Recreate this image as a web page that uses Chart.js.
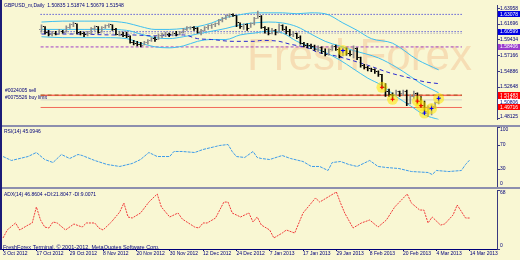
<!DOCTYPE html>
<html>
<head>
<meta charset="utf-8">
<script src="https://cdn.jsdelivr.net/npm/chart.js@4.4.1/dist/chart.umd.min.js"></script>
<style>
  html, body { margin: 0; padding: 0; background: #f9f7d3; }
  #wrap { position: relative; width: 520px; height: 260px; overflow: hidden; background: #f9f7d3; }
  .pane { position: absolute; left: 0; width: 520px; }
  .sep { position: absolute; left: 0; width: 520px; height: 2px; background: #8d8fae; }
  #lborder { position: absolute; left: 0; top: 0; width: 2px; height: 250px; background: #1c1c78; }
</style>
</head>
<body>
<div id="wrap">
  <div class="pane" style="top:0;height:125px"><canvas id="cMain"></canvas></div>
  <div class="sep" style="top:125px"></div>
  <div class="pane" style="top:127px;height:60px"><canvas id="cRsi"></canvas></div>
  <div class="sep" style="top:187px"></div>
  <div class="pane" style="top:189px;height:71px"><canvas id="cAdx"></canvas></div>
  <div id="lborder"></div>
</div>
<script>
// ---- datos ----
const dateLabels = ['3 Oct 2012', '17 Oct 2012', '29 Oct 2012', '8 Nov 2012', '20 Nov 2012', '30 Nov 2012',
    '12 Dec 2012', '24 Dec 2012', '7 Jan 2013', '17 Jan 2013', '29 Jan 2013', '8 Feb 2013',
    '20 Feb 2013', '4 Mar 2013', '14 Mar 2013'];
const dateIdx = [0, 8, 16, 24, 32, 40, 48, 56, 64, 72, 80, 88, 96, 104, 112];

const opens = [1.6092,1.6132,1.6053,1.6026,1.6040,1.6026,1.6066,1.6053,1.6119,1.6158,
    1.6172,1.6053,1.6040,1.6013,1.6040,1.6106,1.6132,1.6053,1.6119,1.6145,
    1.6158,1.6092,1.6026,1.6026,1.6000,1.5987,1.5908,1.5894,1.5881,1.5868,
    1.5908,1.5934,1.5960,1.5947,1.6000,1.6013,1.6026,1.6013,1.6040,1.6026,
    1.6053,1.6092,1.6119,1.6119,1.6106,1.6053,1.6079,1.6119,1.6145,1.6158,
    1.6172,1.6224,1.6251,1.6290,1.6303,1.6290,1.6185,1.6132,1.6158,1.6106,
    1.6172,1.6251,1.6277,1.6119,1.6092,1.6040,1.6079,1.6053,1.6145,1.6092,
    1.6066,1.6013,1.6040,1.5974,1.5894,1.5868,1.5855,1.5842,1.5802,1.5828,
    1.5776,1.5736,1.5802,1.5842,1.5802,1.5710,1.5789,1.5749,1.5736,1.5815,
    1.5683,1.5578,1.5551,1.5525,1.5512,1.5485,1.5446,1.5261,1.5208,1.5155,
    1.5142,1.5195,1.5168,1.5208,1.5023,1.5129,1.5168,1.5063,1.4997,1.4918,
    1.4944,1.4984,1.5037];
const highs = [1.6158,1.6132,1.6079,1.6066,1.6066,1.6092,1.6079,1.6145,1.6172,1.6198,
    1.6172,1.6066,1.6053,1.6066,1.6119,1.6145,1.6132,1.6132,1.6158,1.6172,
    1.6158,1.6106,1.6066,1.6053,1.6053,1.6000,1.5934,1.5921,1.5908,1.5921,
    1.5947,1.5974,1.5987,1.6026,1.6040,1.6053,1.6040,1.6053,1.6066,1.6066,
    1.6106,1.6132,1.6132,1.6132,1.6119,1.6092,1.6132,1.6158,1.6172,1.6185,
    1.6237,1.6264,1.6303,1.6317,1.6317,1.6290,1.6185,1.6172,1.6172,1.6185,
    1.6264,1.6356,1.6290,1.6132,1.6119,1.6106,1.6092,1.6172,1.6158,1.6132,
    1.6092,1.6066,1.6040,1.6000,1.5908,1.5894,1.5881,1.5868,1.5855,1.5842,
    1.5815,1.5815,1.5868,1.5868,1.5828,1.5815,1.5828,1.5789,1.5855,1.5828,
    1.5696,1.5591,1.5564,1.5538,1.5525,1.5498,1.5446,1.5314,1.5234,1.5182,
    1.5221,1.5208,1.5221,1.5221,1.5155,1.5208,1.5182,1.5129,1.5063,1.4997,
    1.5010,1.5050,1.5155];
const lows = [1.6053,1.6026,1.6000,1.6000,1.6013,1.6026,1.6040,1.6053,1.6106,1.6132,
    1.6026,1.6013,1.5987,1.6000,1.6026,1.6079,1.6040,1.6053,1.6106,1.6119,
    1.6079,1.6013,1.6000,1.5987,1.5974,1.5894,1.5868,1.5855,1.5842,1.5868,
    1.5881,1.5921,1.5921,1.5947,1.5974,1.5987,1.5987,1.6000,1.6000,1.6013,
    1.6040,1.6079,1.6092,1.6079,1.6040,1.6013,1.6066,1.6092,1.6106,1.6132,
    1.6158,1.6198,1.6237,1.6264,1.6277,1.6132,1.6106,1.6092,1.6079,1.6119,
    1.6158,1.6251,1.6106,1.6040,1.6013,1.6026,1.6013,1.6053,1.6079,1.6026,
    1.6000,1.5987,1.5960,1.5881,1.5842,1.5828,1.5815,1.5789,1.5776,1.5749,
    1.5710,1.5723,1.5789,1.5789,1.5683,1.5710,1.5723,1.5710,1.5683,1.5657,
    1.5551,1.5525,1.5498,1.5485,1.5459,1.5419,1.5248,1.5129,1.5129,1.5089,
    1.5142,1.5129,1.5142,1.4997,1.5023,1.5102,1.5023,1.4971,1.4891,1.4839,
    1.4865,1.4957,1.5023];
const closes = [1.6132,1.6053,1.6026,1.6040,1.6026,1.6066,1.6053,1.6119,1.6158,1.6172,
    1.6053,1.6040,1.6013,1.6040,1.6106,1.6132,1.6053,1.6119,1.6145,1.6158,
    1.6092,1.6026,1.6026,1.6000,1.5987,1.5908,1.5894,1.5881,1.5868,1.5908,
    1.5934,1.5960,1.5947,1.6000,1.6013,1.6026,1.6013,1.6040,1.6026,1.6053,
    1.6092,1.6119,1.6119,1.6106,1.6053,1.6079,1.6119,1.6145,1.6158,1.6172,
    1.6224,1.6251,1.6290,1.6303,1.6290,1.6185,1.6132,1.6158,1.6106,1.6172,
    1.6251,1.6277,1.6119,1.6092,1.6040,1.6079,1.6053,1.6145,1.6092,1.6066,
    1.6013,1.6040,1.5974,1.5894,1.5868,1.5855,1.5842,1.5802,1.5828,1.5776,
    1.5736,1.5802,1.5842,1.5802,1.5710,1.5789,1.5749,1.5736,1.5815,1.5683,
    1.5578,1.5551,1.5525,1.5512,1.5485,1.5446,1.5261,1.5208,1.5155,1.5142,
    1.5195,1.5168,1.5208,1.5023,1.5129,1.5168,1.5063,1.4997,1.4918,1.4944,
    1.4984,1.5037,1.5116];

// bandas de Bollinger y media (puntos leidos)
const bbUpIdx = [0,6,12,18,24,28,32,36,40,44,48,52,56,60,64,68,72,76,80,85,89,93,99,106,112];
const bbUpper = [1.6198,1.6211,1.6211,1.6211,1.6185,1.6132,1.6092,1.6092,1.6106,1.6132,1.6185,1.6264,1.6303,
    1.6330,1.6330,1.6330,1.6317,1.6330,1.6317,1.6185,1.6079,1.5960,1.5894,1.5657,1.5512];
const bbMidIdx = [0,6,12,18,24,28,32,36,40,44,48,52,56,60,64,68,72,76,80,84,88,95,100,104,107,110,112];
const bbMid = [1.6092,1.6092,1.6092,1.6092,1.6079,1.6026,1.5974,1.5960,1.5987,1.6026,1.6066,1.6106,1.6158,
    1.6185,1.6198,1.6185,1.6132,1.6026,1.5921,1.5855,1.5789,1.5683,1.5551,1.5419,1.5314,1.5234,1.5182];
const bbLowIdx = [0,6,12,18,24,28,32,36,40,44,48,52,56,60,64,68,72,76,80,84,88,92,96,100,104,108,112];
const bbLow = [1.5987,1.5974,1.5974,1.5974,1.5960,1.5894,1.5842,1.5828,1.5855,1.5921,1.5947,1.5947,1.6013,
    1.6040,1.6066,1.6040,1.5921,1.5842,1.5762,1.5657,1.5525,1.5393,1.5287,1.5129,1.4997,1.4865,1.4799];
const maIdx = [0,10,20,25,32,40,44,48,54,60,62,67,70,75,78,82,86,92,98,104,108,112];
const maVals = [1.6026,1.6026,1.6013,1.6013,1.6000,1.6013,1.5960,1.5947,1.5921,1.5921,1.5934,1.5921,1.5881,
    1.5828,1.5762,1.5723,1.5670,1.5578,1.5472,1.5393,1.5340,1.5314];

// niveles horizontales y etiquetas del eje
const levelPrices = [1.63078, 1.60599, 1.60350, 1.58406, 1.51483, 1.51483, 1.51419, 1.50806, 1.49716];
const boxPrices = [1.63078, 1.60599, 1.58406, 1.51483, 1.51419, 1.50806, 1.49716];
const boxLabels = ['1.63078', '1.60599', '1.58406', '1.51483', '1.51419', '1.50806', '1.49716'];
const priceTicks = [1.63958, 1.61696, 1.59434, 1.57166, 1.54886, 1.52648, 1.50387, 1.48125];
const priceTickLabels = ['1.63958', '1.61696', '1.59434', '1.57166', '1.54886', '1.52648', '1.50387', '1.48125'];
const orderLabels = ['#0024005 sell', '#0075526 buy limit'];
const orderPrices = [1.51483, 1.49716];

// marcas de operaciones
const tradeIdx = [85, 96, 99, 106, 107, 108, 110, 112];
const tradePrice = [1.5789, 1.5261, 1.5089, 1.5063, 1.4997, 1.4891, 1.4957, 1.5102];
const tradeSide = ['buy', 'sell', 'sell', 'sell', 'sell', 'buy', 'buy', 'buy'];

// RSI(14)
const rsiIdx = [0,2,6,8,10,12,14,16,18,19,22,25,28,31,33,35,37,40,41,43,46,48,51,52,54,55,56,58,60,61,
    62,64,67,69,72,74,76,78,79,81,83,85,88,90,92,95,98,102,103,104,107,110,111,112];
const rsiVal = [50.8,44.2,50.8,57.5,45.8,40.8,54.2,47.5,54.2,52.5,44.2,37.5,34.2,39.2,45.8,57.5,50.8,50.8,
    59.2,59.2,57.5,62.5,67.5,69.2,70.8,59.2,50.8,49.2,59.2,49.2,47.5,45.8,52.5,47.5,42.5,34.2,34.2,27.5,
    40.8,42.5,37.5,34.2,44.2,34.2,32.5,30.8,25.8,24.2,20.8,27.5,25.8,27.5,37.5,45.1];
const rsiTicks = [0, 30, 70, 100];

// ADX(14)
const adxIdx = [0,1,3,4,6,7,8,9,10,11,12,13,15,17,19,20,22,23,24,26,28,29,30,31,33,35,37,38,40,42,
    43,46,47,48,49,51,53,54,55,57,59,60,61,62,64,65,67,68,70,72,75,76,78,80,81,82,84,86,88,90,
    92,94,97,98,100,101,102,103,105,106,108,109,111,112];
const adxVal = [12.7,21.9,30.0,21.9,27.6,30.0,48.4,33.4,25.3,24.2,31.1,30.0,21.9,28.8,25.3,30.0,30.0,24.2,
    21.9,31.1,42.6,53.0,36.9,35.7,41.5,54.1,63.4,48.4,36.9,41.5,34.6,25.3,24.2,30.0,30.0,35.7,54.1,54.1,
    41.5,36.9,41.5,31.1,36.9,27.6,21.9,12.7,18.4,21.9,18.4,41.5,58.8,54.1,59.9,65.7,53.0,41.5,24.2,30.0,
    33.4,25.3,33.4,48.4,63.4,53.0,44.9,44.9,30.0,36.9,27.6,28.8,39.2,50.7,35.7,35.7];
const adxTicks = [0, 68];

// ---- estilos ----
const NAVY = '#00007a';
const FONT = '"Liberation Sans", Arial, sans-serif';
const X_MIN = -0.25, X_MAX = 118.55;
const P_MIN = 1.4799, P_MAX = 1.64354;
const levelStyles = [
    { color: '#1414d8', dash: [1, 2] },
    { color: '#1414d8', dash: [1, 2] },
    { color: '#a0a0b8', dash: [1, 2] },
    { color: '#a040c8', dash: [3, 2] },
    { color: '#ff4030', dash: [] },
    { color: '#2d6b00', dash: [4, 3] },
    { color: '#f2b0a8', dash: [] },
    { color: '#d6d4c8', dash: [] },
    { color: '#f26a5a', dash: [] }
];
const boxStyles = [
    { bg: '#0000e0', fg: '#ffffff' },
    { bg: '#0000e0', fg: '#ffffff' },
    { bg: '#9a3ccc', fg: '#ffffff' },
    { bg: '#ff0000', fg: '#ffffff' },
    { bg: '#ff0000', fg: '#ffffff' },
    { bg: '#ffffff', fg: NAVY },
    { bg: '#ff0000', fg: '#ffffff' }
];

Chart.defaults.font.family = FONT;
Chart.defaults.font.size = 5;
Chart.defaults.color = NAVY;

function pts(idx, vals) {
    return idx.map((x, k) => ({ x: x, y: vals[k] }));
}

// pequeñas marcas de apertura / cierre (1 px a cada lado)
function tickImg(color, left) {
    const c = document.createElement('canvas');
    c.width = 4; c.height = 1;
    const g = c.getContext('2d');
    g.fillStyle = color;
    g.fillRect(left ? 0 : 3, 0, 1, 1);
    return c;
}
const UP = '#8c8c8c', DOWN = '#000000';
const openUp = tickImg(UP, true), openDn = tickImg(DOWN, true);
const closeUp = tickImg(UP, false), closeDn = tickImg(DOWN, false);
const isUp = i => closes[i] >= opens[i];

function yAxis(min, max, ticks) {
    return {
        position: 'right', min: min, max: max,
        afterFit: s => { s.width = 23; },
        afterBuildTicks: s => { s.ticks = ticks.map(v => ({ value: v })); },
        ticks: { display: false },
        grid: { drawOnChartArea: false, drawTicks: true, tickLength: 3, color: '#3a3a80' },
        border: { display: true, color: '#3a3a80' }
    };
}

function hiddenX() {
    return { type: 'linear', min: X_MIN, max: X_MAX, display: false };
}

// etiquetas del eje derecho (con cajas de color)
function axisLabels(values, labels, boxes) {
    return {
        id: 'axisLabels',
        afterDraw(chart) {
            const s = chart.scales.y, a = chart.chartArea, c = chart.ctx;
            c.save();
            c.font = '5px ' + FONT;
            c.textBaseline = 'middle';
            values.forEach((v, k) => {
                const y = Math.min(Math.max(s.getPixelForValue(v), a.top + 3), a.bottom - 3);
                c.fillStyle = NAVY;
                c.fillText(labels[k], a.right + 3, y);
            });
            if (boxes) {
                let last = -99;
                boxes.values.forEach((v, k) => {
                    let y = s.getPixelForValue(v);
                    if (y < last + 3.5) y = last + 3.5;
                    last = y;
                    c.fillStyle = boxStyles[k].bg;
                    c.fillRect(a.right + 1, Math.round(y - 3), 23, 6);
                    c.fillStyle = boxStyles[k].fg;
                    c.fillText(boxes.labels[k], a.right + 3, y);
                });
            }
            c.restore();
        }
    };
}

function texts(items) {
    return {
        id: 'texts',
        afterDraw(chart) {
            const c = chart.ctx;
            c.save();
            c.textBaseline = 'middle';
            items.forEach(t => {
                c.font = (t.size || 5) + 'px ' + FONT;
                c.fillStyle = t.color || NAVY;
                const y = t.price ? chart.scales.y.getPixelForValue(t.price) + t.dy : t.y;
                c.fillText(t.text, t.x, y);
            });
            c.restore();
        }
    };
}

const watermark = {
    id: 'watermark',
    beforeDatasetsDraw(chart) {
        const c = chart.ctx;
        c.save();
        c.font = '44px ' + FONT;
        c.fillStyle = 'rgba(235,120,60,0.2)';
        c.fillText('FreshForex', 247, 70);
        c.restore();
    }
};

const lineDs = (data, color, extra) => Object.assign({
    type: 'line', data: data, borderColor: color, borderWidth: 1,
    pointRadius: 0, fill: false, cubicInterpolationMode: 'monotone'
}, extra || {});

const barIdx = closes.map((_, i) => i);
const buyIdx = tradeIdx.filter((_, k) => tradeSide[k] === 'buy');
const buyPrice = tradePrice.filter((_, k) => tradeSide[k] === 'buy');
const sellIdx = tradeIdx.filter((_, k) => tradeSide[k] === 'sell');
const sellPrice = tradePrice.filter((_, k) => tradeSide[k] === 'sell');

const mainDatasets = [
    { type: 'line', data: pts(buyIdx, buyPrice), showLine: false, pointStyle: 'cross',
      pointRadius: 2, pointBorderColor: '#0000ff', pointBorderWidth: 1 },
    { type: 'line', data: pts(sellIdx, sellPrice), showLine: false, pointStyle: 'cross',
      pointRadius: 2, pointBorderColor: '#ff0000', pointBorderWidth: 1 },
    { type: 'line', data: pts(tradeIdx, tradePrice), showLine: false, pointRadius: 5.5,
      pointBackgroundColor: 'rgba(255,230,0,0.55)', pointBorderWidth: 0 },
    { type: 'line', data: pts(barIdx, opens), showLine: false, pointRadius: 1,
      pointStyle: ctx => isUp(ctx.dataIndex) ? openUp : openDn },
    { type: 'line', data: pts(barIdx, closes), showLine: false, pointRadius: 1,
      pointStyle: ctx => isUp(ctx.dataIndex) ? closeUp : closeDn },
    { type: 'bar', data: barIdx.map(i => ({ x: i, y: [lows[i], highs[i]] })),
      backgroundColor: barIdx.map(i => isUp(i) ? UP : DOWN), barThickness: 1, grouped: false },
    lineDs(pts(maIdx, maVals), '#2a2ad0', { borderDash: [4, 3] }),
    lineDs(pts(bbUpIdx, bbUpper), '#3fbff0'),
    lineDs(pts(bbMidIdx, bbMid), '#3fbff0'),
    lineDs(pts(bbLowIdx, bbLow), '#3fbff0')
];
levelPrices.forEach((p, k) => {
    mainDatasets.push(lineDs([{ x: X_MIN, y: p }, { x: X_MAX, y: p }], levelStyles[k].color,
        { borderDash: levelStyles[k].dash }));
});

const baseOpts = {
    responsive: true, maintainAspectRatio: false, animation: false, devicePixelRatio: 1,
    plugins: { legend: { display: false }, tooltip: { enabled: false } },
    events: []
};

new Chart(document.getElementById('cMain'), {
    type: 'bar',
    data: { datasets: mainDatasets },
    options: Object.assign({}, baseOpts, {
        layout: { padding: { left: 2, top: 1, right: 0, bottom: 0 } },
        scales: { x: hiddenX(), y: yAxis(P_MIN, P_MAX, priceTicks) }
    }),
    plugins: [watermark,
        axisLabels(priceTicks, priceTickLabels, { values: boxPrices, labels: boxLabels }),
        texts([
            { text: 'GBPUSD_m,Daily  1.50835 1.51874 1.50679 1.51548', x: 4, y: 5.5 },
            { text: orderLabels[0], x: 5, price: orderPrices[0], dy: -4.5 },
            { text: orderLabels[1], x: 5, price: orderPrices[1], dy: -9.5 }
        ])]
});

new Chart(document.getElementById('cRsi'), {
    type: 'line',
    data: { datasets: [lineDs(pts(rsiIdx, rsiVal), '#3d9be9', { borderDash: [3, 1], cubicInterpolationMode: 'default', tension: 0 })] },
    options: Object.assign({}, baseOpts, {
        layout: { padding: { left: 2, top: 0, right: 0, bottom: 0 } },
        scales: { x: hiddenX(), y: yAxis(0, 100, rsiTicks) }
    }),
    plugins: [axisLabels(rsiTicks, rsiTicks.map(String)),
        texts([{ text: 'RSI(14) 45.0946', x: 4, y: 4.5 }])]
});

new Chart(document.getElementById('cAdx'), {
    type: 'line',
    data: { datasets: [lineDs(pts(adxIdx, adxVal), '#f03a3a', { borderDash: [2, 1], cubicInterpolationMode: 'default', tension: 0 })] },
    options: Object.assign({}, baseOpts, {
        layout: { padding: { left: 2, top: 1, right: 0, bottom: 0 } },
        scales: {
            x: {
                type: 'linear', min: X_MIN, max: X_MAX, position: 'bottom',
                afterFit: s => { s.height = 11; },
                afterBuildTicks: s => { s.ticks = dateIdx.map(v => ({ value: v })); },
                ticks: { autoSkip: false, maxRotation: 0, align: 'start', padding: 0,
                         color: NAVY, font: { size: 5 },
                         callback: (v, i) => dateLabels[i] },
                grid: { drawOnChartArea: false, drawTicks: true, tickLength: 2, color: NAVY },
                border: { display: true, color: NAVY }
            },
            y: yAxis(0, 68, adxTicks)
        }
    }),
    plugins: [axisLabels(adxTicks, adxTicks.map(String)),
        texts([
            { text: 'ADX(14) 46.8604 +DI:21.8047 -DI:9.0071', x: 4, y: 6 },
            { text: 'FreshForex Terminal, \u00a9 2001-2012, MetaQuotes Software Corp.', x: 3, y: 58.5, size: 5.5 }
        ])]
});
</script>
</body>
</html>
